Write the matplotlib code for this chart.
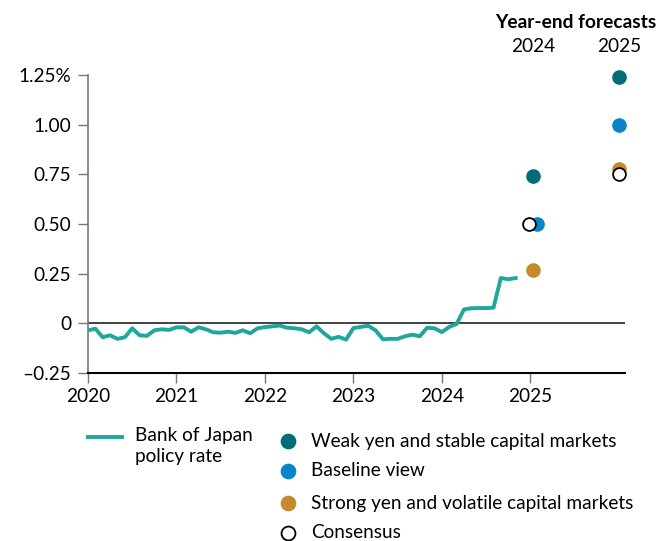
import matplotlib.pyplot as plt
import numpy as np

plt.rcParams['font.family'] = ['Lato', 'DejaVu Sans']

# monthly BoJ policy (call) rate, Jan 2020 onward
boj_rate = [-0.035, -0.027, -0.070, -0.060, -0.078, -0.070, -0.025, -0.060, -0.063, -0.035,
            -0.030, -0.033, -0.020, -0.020, -0.042, -0.020, -0.030, -0.045, -0.047, -0.042,
            -0.048, -0.035, -0.050, -0.025, -0.019, -0.015, -0.011, -0.022, -0.025, -0.030,
            -0.045, -0.015, -0.050, -0.078, -0.068, -0.082, -0.024, -0.018, -0.012, -0.035,
            -0.080, -0.078, -0.078, -0.065, -0.057, -0.065, -0.022, -0.025, -0.044, -0.018,
            -0.003, 0.070, 0.076, 0.077, 0.077, 0.079, 0.228, 0.222, 0.228]
months = 2020 + np.arange(len(boj_rate)) / 12

scenarios = ['Weak yen and stable capital markets', 'Baseline view',
             'Strong yen and volatile capital markets', 'Consensus']
fc_2024 = [0.74, 0.50, 0.27, 0.50]
fc_2025 = [1.24, 1.00, 0.775, 0.75]
x_2024 = [2025.03, 2025.08, 2025.03, 2024.99]
x_2025 = [2026.0, 2026.0, 2026.0, 2026.0]
face = ['#006d77', '#0a84c8', '#c68a2e', 'white']
edge = ['#006d77', '#0a84c8', '#c68a2e', 'black']

yticks = [-0.25, 0, 0.25, 0.5, 0.75, 1.0, 1.25]
ylabels = ['\u20130.25', '0', '0.25', '0.50', '0.75', '1.00', '1.25%']
years = [2020, 2021, 2022, 2023, 2024, 2025]

fs = 13.7

fig = plt.figure(figsize=(6.6, 5.41), dpi=100)
ax = fig.add_axes([0.1333, 0.3105, 0.8137, 0.5509])

ax.plot(months, boj_rate, color='#1fa79a', lw=2.8, zorder=3)
for i in range(len(scenarios)):
    ax.scatter([x_2024[i], x_2025[i]], [fc_2024[i], fc_2025[i]], s=85,
               facecolor=face[i], edgecolor=edge[i], linewidth=1.3, zorder=4, clip_on=False)

ax.axhline(0, color='#222222', lw=1.2, zorder=2)
ax.set_xlim(2020, 2026.07)
ax.set_ylim(-0.25, 1.25)
ax.set_yticks(yticks)
ax.set_yticklabels(ylabels)
ax.set_xticks(years)
ax.set_xticklabels([str(y) for y in years])
ax.tick_params(axis='both', length=7, width=1, color='#777777', labelsize=fs, pad=4)
ax.tick_params(axis='y', pad=5)

for s in ['top', 'right']:
    ax.spines[s].set_visible(False)
ax.spines['left'].set_color('#777777')
ax.spines['left'].set_linewidth(1.2)
ax.spines['bottom'].set_color('black')
ax.spines['bottom'].set_linewidth(1.5)

# header over forecast columns
fig.text(576 / 660, 1 - 22 / 541, 'Year-end forecasts', ha='center', va='center',
         fontsize=13.8, fontweight='bold')
fig.text(533 / 660, 1 - 46 / 541, '2024', ha='center', va='center', fontsize=fs)
fig.text(619 / 660, 1 - 46 / 541, '2025', ha='center', va='center', fontsize=fs)

# legend
fig.add_artist(plt.Line2D([88 / 660, 122 / 660], [1 - 437 / 541] * 2, color='#1fa79a', lw=2.8))
fig.text(135 / 660, 1 - 446 / 541, 'Bank of Japan\npolicy rate', ha='left', va='center',
         fontsize=fs, linespacing=1.35)
rows = [441, 471, 503, 533]
for i in range(len(scenarios)):
    y = 1 - rows[i] / 541
    fig.add_artist(plt.Line2D([288 / 660], [y], marker='o', markersize=10,
                              markerfacecolor=face[i], markeredgecolor=edge[i],
                              markeredgewidth=1.3, linestyle='none'))
    fig.text(311 / 660, y, scenarios[i], ha='left', va='center', fontsize=fs)

fig.savefig('out.png', dpi=100)
